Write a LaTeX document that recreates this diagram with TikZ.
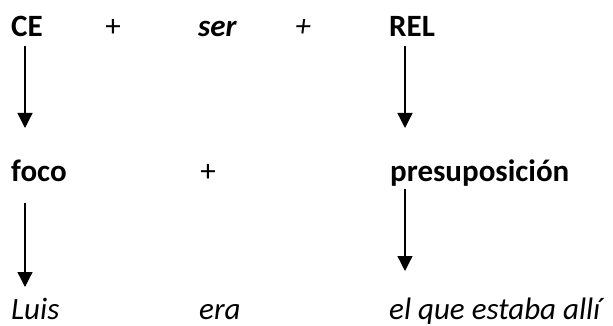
\documentclass[tikz,border=0pt]{standalone}
\usepackage{fontspec}
\setmainfont{Carlito}
\usetikzlibrary{arrows.meta}

\begin{document}
\begin{tikzpicture}[x=1pt, y=-1pt,
		wort/.style={inner sep=0pt, anchor=base west, font=\fontsize{31}{37}\selectfont},
		plus/.style={inner sep=0pt, anchor=base, font=\fontsize{31}{37}\selectfont},
		pfeil/.style={line width=1.3pt, -{Triangle[width=15pt, length=15pt]}}]
			%%%%% START %%%%%
			
			\useasboundingbox (0, 0) rectangle (613, 326);
			
			\node[wort] (ce) at (11, 37) {\textbf{CE}};
			\node[plus] (plusa) at (113, 37) {+};
			\node[wort] (ser) at (198, 37) {\textbf{\textit{ser}}};
			\node[plus] (plusb) at (303, 37) {\textit{+}};
			\node[wort] (rel) at (389, 37) {\textbf{REL}};
			
			\node[wort] (foco) at (11, 181) {\textbf{foco}};
			\node[plus] (plusc) at (208, 181) {+};
			\node[wort] (presup) at (390, 181) {\textbf{presuposición}};
			
			\node[wort] (luis) at (11, 319) {\textit{Luis}};
			\node[wort] (era) at (199, 319) {\textit{era}};
			\node[wort] (alli) at (389, 319) {\textit{el que estaba allí}};
			
			\draw[pfeil] (ce.base west) ++(14, 9) -- ++(0, 82);
			\draw[pfeil] (rel.base west) ++(16, 9) -- ++(0, 82);
			
			\draw[pfeil] (foco.base west) ++(14, 22) -- ++(0, 84);
			\draw[pfeil] (presup.base west) ++(15, 8) -- ++(0, 82);
			
			%%%%% END %%%%%
		\end{tikzpicture}
\end{document}
